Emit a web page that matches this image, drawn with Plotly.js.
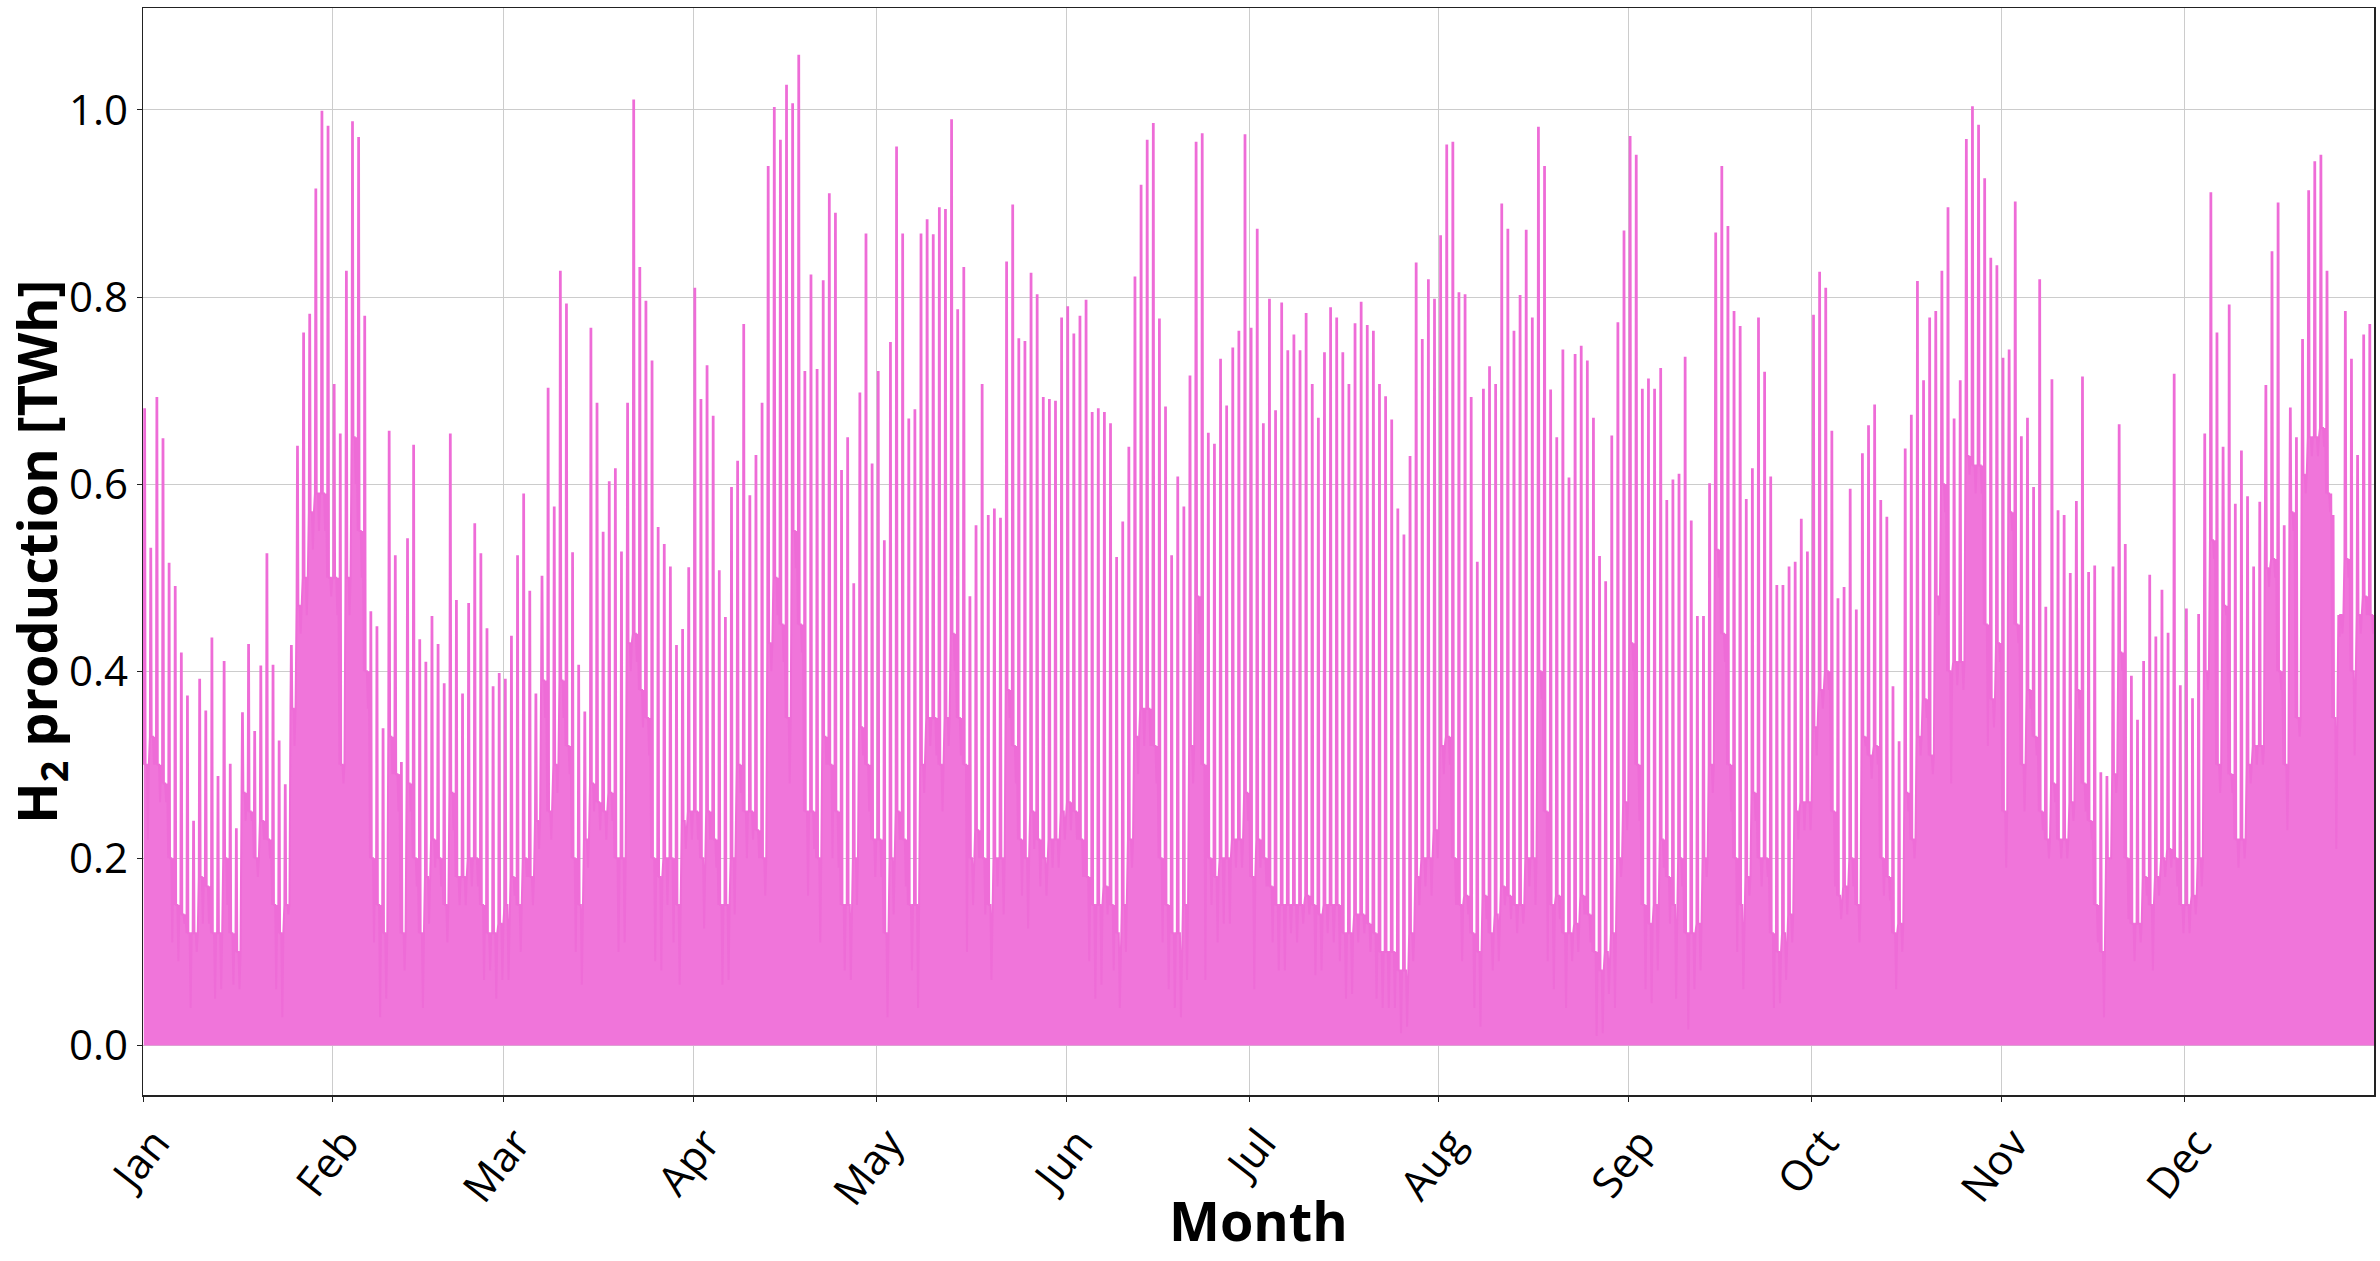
<!DOCTYPE html>
<html>
<head>
<meta charset="utf-8">
<script src="https://cdn.plot.ly/plotly-3.0.1.min.js"></script>
<style>
  html, body { margin: 0; padding: 0; background: #fff; }
  #myDiv { width: 2380px; height: 1261px; }
</style>
</head>
<body>
<div id="myDiv"></div>
<script>
// daily H2 production (TWh): daily spike, daytime level, night dip
var dailyPeak = [
    0.68,0.531,0.692,0.648,0.515,0.49,0.419,0.373,0.239,0.391,0.357,0.435,0.287,0.41,0.30,0.231,0.355,0.428,0.335,0.405,0.525,0.406,0.325,0.278,0.427,0.64,0.761,0.781,0.915,0.998,0.982,
    0.706,0.653,0.827,0.987,0.970,0.779,0.463,0.447,0.338,0.656,0.523,0.302,0.541,0.641,0.433,0.409,0.458,0.428,0.386,0.653,0.475,0.375,0.472,0.557,0.525,0.445,0.383,0.397,
    0.391,0.437,0.523,0.589,0.485,0.375,0.501,0.702,0.575,0.827,0.792,0.526,0.406,0.356,0.766,0.686,0.548,0.602,0.616,0.527,0.686,1.010,0.831,0.795,0.731,0.553,0.535,0.511,0.427,0.444,0.510,
    0.809,0.690,0.726,0.672,0.507,0.457,0.596,0.624,0.770,0.587,0.630,0.686,0.939,1.002,0.967,1.026,1.006,1.058,0.720,0.823,0.722,0.817,0.910,0.889,0.614,0.649,0.493,0.697,0.867,0.621,
    0.720,0.539,0.751,0.960,0.867,0.669,0.679,0.867,0.882,0.866,0.895,0.893,0.989,0.786,0.831,0.479,0.555,0.706,0.566,0.573,0.563,0.837,0.898,0.755,0.752,0.825,0.802,0.692,0.690,0.688,0.777,
    0.789,0.760,0.779,0.796,0.676,0.680,0.676,0.664,0.521,0.559,0.639,0.821,0.919,0.967,0.985,0.776,0.682,0.523,0.607,0.575,0.715,0.965,0.974,0.654,0.642,0.733,0.683,0.745,0.763,0.973,
    0.766,0.872,0.664,0.797,0.678,0.793,0.742,0.759,0.742,0.782,0.706,0.670,0.740,0.788,0.777,0.740,0.706,0.771,0.794,0.769,0.763,0.706,0.693,0.668,0.573,0.545,0.629,0.836,0.754,0.818,0.797,
    0.865,0.962,0.965,0.804,0.802,0.692,0.516,0.701,0.725,0.706,0.899,0.872,0.763,0.801,0.871,0.777,0.981,0.939,0.700,0.649,0.743,0.606,0.738,0.747,0.731,0.670,0.522,0.495,0.651,0.772,0.870,
    0.971,0.951,0.701,0.712,0.701,0.723,0.582,0.604,0.610,0.735,0.560,0.458,0.458,0.600,0.868,0.939,0.875,0.784,0.768,0.583,0.616,0.777,0.719,0.607,0.491,0.491,0.511,0.516,0.562,0.527,
    0.780,0.826,0.809,0.656,0.477,0.489,0.594,0.465,0.632,0.662,0.684,0.582,0.564,0.383,0.324,0.637,0.673,0.816,0.710,0.777,0.784,0.827,0.895,0.669,0.710,0.968,1.003,0.983,0.926,0.841,0.833,
    0.734,0.743,0.901,0.650,0.670,0.596,0.818,0.468,0.711,0.571,0.566,0.504,0.581,0.714,0.505,0.512,0.291,0.287,0.511,0.663,0.535,0.394,0.347,0.410,0.502,0.436,0.486,0.440,0.717,0.384,
    0.466,0.370,0.460,0.653,0.911,0.761,0.639,0.791,0.578,0.635,0.586,0.511,0.580,0.705,0.848,0.900,0.555,0.681,0.649,0.754,0.913,0.944,0.951,0.827,0.566,0.438,0.784,0.733,0.630,0.759,0.770
];

var dailyBase = [
    0.30,0.33,0.30,0.28,0.20,0.15,0.14,0.12,0.12,0.18,0.17,0.12,0.12,0.20,0.12,0.10,0.27,0.25,0.20,0.24,0.22,0.15,0.12,0.15,0.36,0.47,0.50,0.57,0.59,0.59,0.50,
    0.50,0.30,0.50,0.65,0.55,0.40,0.20,0.15,0.12,0.33,0.29,0.12,0.28,0.20,0.12,0.18,0.22,0.20,0.15,0.27,0.18,0.18,0.20,0.20,0.15,0.12,0.12,0.13,
    0.15,0.18,0.15,0.20,0.18,0.24,0.39,0.25,0.30,0.39,0.32,0.20,0.15,0.22,0.28,0.26,0.25,0.27,0.20,0.20,0.43,0.44,0.38,0.35,0.20,0.18,0.20,0.20,0.15,0.24,0.25,
    0.25,0.20,0.25,0.22,0.15,0.15,0.20,0.30,0.25,0.25,0.23,0.20,0.43,0.50,0.45,0.35,0.55,0.45,0.25,0.25,0.20,0.33,0.30,0.25,0.15,0.15,0.20,0.34,0.30,0.22,
    0.22,0.12,0.20,0.25,0.22,0.15,0.15,0.30,0.35,0.35,0.30,0.35,0.44,0.35,0.30,0.20,0.23,0.20,0.15,0.20,0.20,0.38,0.32,0.22,0.20,0.25,0.22,0.20,0.22,0.22,0.25,
    0.26,0.25,0.22,0.18,0.15,0.15,0.17,0.15,0.12,0.15,0.22,0.33,0.36,0.36,0.32,0.20,0.15,0.12,0.12,0.15,0.32,0.48,0.30,0.20,0.18,0.20,0.20,0.22,0.22,0.27,
    0.18,0.22,0.20,0.17,0.15,0.15,0.15,0.15,0.15,0.16,0.15,0.14,0.15,0.15,0.15,0.12,0.12,0.14,0.14,0.13,0.12,0.10,0.10,0.10,0.08,0.08,0.12,0.18,0.20,0.20,0.23,
    0.32,0.33,0.20,0.15,0.16,0.12,0.10,0.16,0.12,0.14,0.17,0.16,0.15,0.15,0.20,0.20,0.40,0.25,0.15,0.16,0.12,0.12,0.13,0.16,0.14,0.10,0.08,0.10,0.12,0.20,0.26,
    0.43,0.30,0.15,0.13,0.15,0.22,0.18,0.15,0.20,0.12,0.12,0.13,0.20,0.30,0.53,0.44,0.30,0.20,0.15,0.18,0.27,0.20,0.20,0.12,0.10,0.12,0.14,0.25,0.26,0.26,
    0.34,0.38,0.40,0.25,0.16,0.17,0.20,0.15,0.33,0.31,0.32,0.20,0.18,0.12,0.13,0.27,0.22,0.33,0.37,0.31,0.48,0.60,0.40,0.41,0.41,0.63,0.62,0.62,0.45,0.37,0.43,
    0.25,0.57,0.45,0.30,0.38,0.33,0.25,0.22,0.28,0.22,0.22,0.26,0.38,0.28,0.24,0.15,0.10,0.20,0.29,0.42,0.20,0.13,0.13,0.18,0.15,0.18,0.20,0.21,0.20,0.15,
    0.15,0.16,0.20,0.40,0.54,0.30,0.47,0.29,0.22,0.22,0.30,0.32,0.32,0.51,0.52,0.40,0.30,0.57,0.35,0.61,0.65,0.65,0.66,0.59,0.35,0.46,0.52,0.40,0.46,0.48,0.46
];

var dailyLow = [
    0.22,0.30,0.26,0.26,0.11,0.09,0.13,0.04,0.10,0.13,0.13,0.05,0.06,0.15,0.065,0.06,0.24,0.24,0.18,0.22,0.20,0.06,0.03,0.14,0.32,0.44,0.46,0.53,0.55,0.55,0.48,
    0.46,0.28,0.46,0.60,0.50,0.36,0.11,0.03,0.05,0.29,0.25,0.08,0.25,0.17,0.04,0.13,0.19,0.17,0.11,0.23,0.15,0.15,0.17,0.17,0.07,0.08,0.05,0.07,
    0.07,0.16,0.10,0.18,0.15,0.21,0.35,0.22,0.27,0.35,0.29,0.10,0.065,0.19,0.25,0.23,0.22,0.24,0.10,0.11,0.40,0.41,0.34,0.31,0.09,0.08,0.15,0.11,0.065,0.21,0.22,
    0.22,0.125,0.22,0.19,0.065,0.07,0.14,0.27,0.20,0.22,0.20,0.16,0.40,0.46,0.41,0.28,0.51,0.42,0.16,0.21,0.11,0.30,0.20,0.19,0.08,0.07,0.15,0.31,0.25,0.18,
    0.18,0.03,0.14,0.22,0.17,0.08,0.04,0.27,0.32,0.31,0.25,0.32,0.40,0.31,0.10,0.15,0.20,0.14,0.07,0.17,0.14,0.35,0.28,0.16,0.125,0.21,0.17,0.16,0.19,0.19,0.22,
    0.23,0.22,0.18,0.09,0.05,0.065,0.14,0.08,0.04,0.10,0.19,0.29,0.32,0.32,0.28,0.11,0.06,0.04,0.03,0.07,0.28,0.44,0.07,0.15,0.11,0.13,0.13,0.19,0.19,0.24,
    0.06,0.19,0.17,0.11,0.08,0.08,0.12,0.11,0.13,0.14,0.075,0.08,0.12,0.11,0.09,0.05,0.055,0.11,0.12,0.10,0.05,0.04,0.04,0.04,0.013,0.02,0.09,0.15,0.17,0.16,0.20,
    0.29,0.30,0.15,0.09,0.14,0.04,0.02,0.135,0.08,0.09,0.15,0.135,0.12,0.13,0.17,0.15,0.37,0.09,0.06,0.135,0.04,0.09,0.10,0.14,0.11,0.01,0.013,0.055,0.04,0.18,0.23,
    0.40,0.24,0.06,0.045,0.08,0.19,0.13,0.05,0.17,0.017,0.06,0.08,0.18,0.27,0.50,0.41,0.25,0.10,0.06,0.16,0.24,0.17,0.18,0.04,0.045,0.07,0.11,0.22,0.23,0.23,
    0.31,0.36,0.38,0.17,0.135,0.14,0.17,0.11,0.32,0.285,0.30,0.16,0.155,0.06,0.10,0.25,0.20,0.31,0.35,0.29,0.46,0.57,0.28,0.385,0.38,0.61,0.59,0.59,0.32,0.34,0.41,
    0.19,0.55,0.43,0.25,0.36,0.31,0.23,0.20,0.26,0.20,0.20,0.24,0.36,0.25,0.22,0.11,0.03,0.20,0.27,0.40,0.135,0.09,0.11,0.16,0.08,0.16,0.18,0.19,0.17,0.12,
    0.12,0.14,0.17,0.38,0.52,0.27,0.46,0.27,0.19,0.20,0.28,0.30,0.30,0.49,0.50,0.38,0.23,0.55,0.33,0.59,0.63,0.63,0.64,0.57,0.21,0.44,0.50,0.31,0.44,0.46,0.44
];

var monthStarts = ['2019-01-01','2019-02-01','2019-03-01','2019-04-01','2019-05-01','2019-06-01',
                   '2019-07-01','2019-08-01','2019-09-01','2019-10-01','2019-11-01','2019-12-01'];
var monthNames = ['Jan','Feb','Mar','Apr','May','Jun','Jul','Aug','Sep','Oct','Nov','Dec'];

// lay the daily values out over the hours of each day
var x = [], y = [];
function stamp(day, hour) {
    var d = new Date(Date.UTC(2019, 0, 1 + day, hour));
    return d.toISOString().slice(0, 13).replace('T', ' ') + ':00';
}
for (var d = 0; d < dailyPeak.length; d++) {
    x.push(stamp(d, 3));  y.push(dailyBase[d]);
    x.push(stamp(d, 5));  y.push(dailyPeak[d]);
    x.push(stamp(d, 8));  y.push(dailyPeak[d]);
    x.push(stamp(d, 10)); y.push(dailyBase[d]);
    x.push(stamp(d, 15)); y.push(dailyBase[d]);
    x.push(stamp(d, 19)); y.push(dailyLow[d]);
    x.push(stamp(d, 23)); y.push(dailyBase[d]);
}

var trace1 = {
    x: x,
    y: y,
    type: 'scatter',
    mode: 'lines',
    line: { color: '#ee6cd7', width: 2 },
    fill: 'tozeroy',
    fillcolor: '#f075da',
    hoverinfo: 'skip'
};

var tickFont = { family: 'Open Sans, sans-serif', size: 42, color: '#000' };
var titleFont = { family: 'Open Sans, sans-serif', size: 54, color: '#000', weight: 'bold' };

var layout = {
    width: 2380,
    height: 1261,
    paper_bgcolor: '#fff',
    plot_bgcolor: '#fff',
    showlegend: false,
    margin: { l: 143, r: 6, t: 8, b: 166, pad: 0 },
    xaxis: {
        type: 'date',
        range: ['2019-01-01 00:00', '2019-12-31 23:00'],
        tickmode: 'array',
        tickvals: monthStarts,
        ticktext: monthNames,
        tickangle: -52,
        ticklabelshift: 12,
        tickfont: tickFont,
        ticks: 'outside',
        ticklen: 5,
        tickcolor: '#222',
        showgrid: true,
        gridcolor: '#cccccc',
        gridwidth: 1,
        showline: true,
        linecolor: '#222',
        linewidth: 1.5,
        mirror: true,
        zeroline: false
    },
    yaxis: {
        range: [-0.053, 1.109],
        tickvals: [0, 0.2, 0.4, 0.6, 0.8, 1.0],
        ticktext: ['0.0', '0.2', '0.4', '0.6', '0.8', '1.0'],
        tickfont: tickFont,
        ticks: 'outside',
        ticklen: 5,
        tickcolor: '#222',
        showgrid: true,
        gridcolor: '#cccccc',
        gridwidth: 1,
        showline: true,
        linecolor: '#222',
        linewidth: 1.5,
        mirror: true,
        zeroline: false
    },
    // axis titles as annotations so they can sit where the reference has them
    annotations: [
        {
            text: 'Month', font: titleFont, showarrow: false,
            xref: 'paper', yref: 'paper', x: 0.5, y: -0.079,
            xanchor: 'center', yanchor: 'top'
        },
        {
            text: 'H<sub>2</sub> production [TWh]', font: titleFont, showarrow: false,
            textangle: -90,
            xref: 'paper', yref: 'paper', x: -0.047, y: 0.5,
            xanchor: 'center', yanchor: 'middle'
        }
    ]
};

var config = { responsive: false, displayModeBar: false, staticPlot: true };

Plotly.newPlot(document.getElementById('myDiv'), [trace1], layout, config);
</script>
</body>
</html>
